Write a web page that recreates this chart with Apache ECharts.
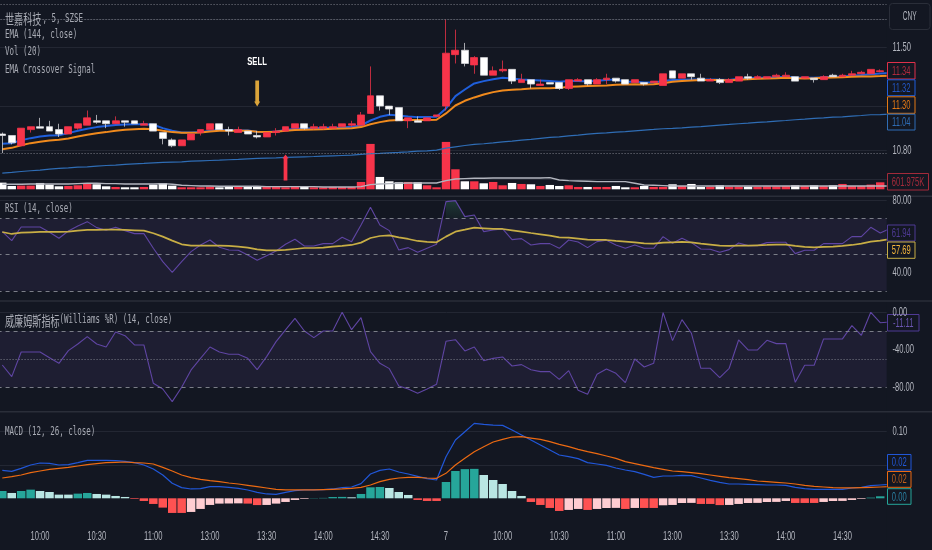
<!DOCTYPE html>
<html>
<head>
<meta charset="utf-8">
<style>html,body{margin:0;padding:0;background:#131722}#main{width:932px;height:550px}</style>
<script src="https://cdn.jsdelivr.net/npm/echarts@6/dist/echarts.min.js"></script>
</head>
<body>
<div id="main"></div>
<script>
// the last category is the bar that is cut off by the right edge of the plot, only the lines reach it
var categories = [
  '09:40','09:45','09:50','09:55','10:00','10:05','10:10','10:15','10:20','10:25','10:30','10:35','10:40','10:45','10:50','10:55','11:00','11:05','11:10','11:15','11:20','11:25',
  '13:00','13:05','13:10','13:15','13:20','13:25','13:30','13:35','13:40','13:45','13:50','13:55','14:00','14:05','14:10','14:15','14:20','14:25','14:30','14:35','14:40','14:45','14:50','14:55','15:00',
  '7','09:35','09:40','09:45','09:50','09:55','10:00','10:05','10:10','10:15','10:20','10:25','10:30','10:35','10:40','10:45','10:50','10:55','11:00','11:05','11:10','11:15','11:20','11:25',
  '13:00','13:05','13:10','13:15','13:20','13:25','13:30','13:35','13:40','13:45','13:50','13:55','14:00','14:05','14:10','14:15','14:20','14:25','14:30','14:35','14:40','14:45','14:50','14:55'
];
var timeTicks = ['10:00','10:30','11:00','13:00','13:30','14:00','14:30','7'];
var priceTicks = [10.8, 11.5];
var rsiTicks = [40, 80];
var williamsTicks = [0, -40, -80];
var macdTicks = [0.1];

// open, close, low, high
var candles = [
  [10.91,10.90,10.78,10.92],[10.90,10.85,10.84,10.90],[10.83,10.95,10.83,10.95],[10.94,10.96,10.92,10.96],[10.96,10.95,10.95,11.02],
  [10.96,10.93,10.93,11.00],[10.94,10.91,10.89,10.98],[10.91,10.96,10.91,10.96],[10.95,10.98,10.94,10.98],[10.97,11.02,10.97,11.07],
  [11.00,10.99,10.98,11.04],[11.00,10.98,10.95,11.00],[10.98,11.00,10.98,11.03],[11.00,10.99,10.96,11.00],[11.00,10.98,10.98,11.00],
  [10.97,10.98,10.97,11.00],[10.98,10.93,10.93,10.98],[10.92,10.88,10.84,10.92],[10.87,10.83,10.82,10.88],[10.83,10.87,10.83,10.87],
  [10.87,10.91,10.87,10.91],[10.92,10.94,10.90,10.94],[10.94,10.98,10.94,10.98],[10.98,10.94,10.94,10.98],[10.94,10.93,10.90,10.96],
  [10.92,10.94,10.92,10.96],[10.93,10.91,10.91,10.93],[10.90,10.89,10.88,10.93],[10.89,10.92,10.89,10.92],[10.92,10.93,10.90,10.95],
  [10.93,10.96,10.93,10.96],[10.95,10.98,10.95,10.98],[10.98,10.95,10.94,10.98],[10.95,10.96,10.94,10.98],[10.95,10.96,10.94,10.98],
  [10.95,10.96,10.95,10.98],[10.96,10.98,10.96,10.98],[10.97,10.98,10.96,11.00],[10.97,11.04,10.97,11.06],[11.05,11.17,11.05,11.37],
  [11.17,11.10,11.07,11.17],[11.10,11.08,11.04,11.10],[11.09,11.00,11.00,11.09],[11.00,11.02,10.95,11.02],[11.00,10.99,10.99,11.03],
  [11.00,11.02,11.00,11.02],[11.03,11.04,11.03,11.04],[11.10,11.46,11.07,11.69],[11.45,11.48,11.39,11.62],[11.48,11.39,11.37,11.53],
  [11.38,11.43,11.32,11.44],[11.43,11.31,11.31,11.43],[11.31,11.34,11.31,11.37],[11.34,11.35,11.33,11.41],[11.35,11.27,11.25,11.35],
  [11.26,11.28,11.26,11.32],[11.28,11.25,11.22,11.28],[11.24,11.25,11.24,11.28],[11.26,11.25,11.25,11.26],[11.26,11.22,11.21,11.26],
  [11.22,11.28,11.21,11.28],[11.27,11.28,11.27,11.29],[11.28,11.25,11.24,11.28],[11.25,11.28,11.25,11.29],[11.28,11.29,11.25,11.32],
  [11.29,11.27,11.26,11.29],[11.28,11.25,11.25,11.28],[11.26,11.28,11.26,11.28],[11.26,11.25,11.24,11.26],[11.26,11.27,11.26,11.27],
  [11.24,11.32,11.24,11.32],[11.34,11.29,11.29,11.34],[11.29,11.32,11.29,11.32],[11.32,11.30,11.28,11.32],[11.29,11.27,11.27,11.32],
  [11.27,11.28,11.27,11.29],[11.28,11.26,11.25,11.29],[11.26,11.28,11.26,11.29],[11.27,11.30,11.27,11.30],[11.30,11.29,11.28,11.32],
  [11.29,11.30,11.29,11.31],[11.29,11.30,11.29,11.30],[11.30,11.31,11.30,11.32],[11.30,11.31,11.30,11.33],[11.30,11.27,11.27,11.30],
  [11.29,11.30,11.29,11.30],[11.29,11.28,11.26,11.29],[11.28,11.30,11.28,11.31],[11.31,11.30,11.30,11.32],[11.30,11.31,11.30,11.32],
  [11.31,11.32,11.31,11.34],[11.32,11.33,11.32,11.34],[11.32,11.35,11.32,11.35],[11.335,11.34,11.33,11.35]
];

var emaFast = [
  10.844,10.848,10.868,10.882,10.893,10.900,10.902,10.916,10.932,10.946,10.957,10.964,10.971,10.975,10.977,10.977,10.973,10.950,10.932,10.921,10.921,10.923,10.932,10.937,10.937,10.934,10.934,10.925,10.923,10.927,10.937,10.946,10.948,
  10.950,10.952,10.952,10.955,10.959,10.968,11.002,11.027,11.041,11.036,11.029,11.025,11.025,11.027,11.084,11.168,11.213,11.254,11.270,11.283,11.293,11.288,11.281,11.277,11.274,11.270,11.265,11.270,11.270,11.268,11.272,11.277,11.281,
  11.265,11.265,11.261,11.261,11.270,11.277,11.279,11.281,11.281,11.281,11.279,11.277,11.286,11.290,11.293,11.293,11.297,11.299,11.295,11.293,11.293,11.297,11.299,11.302,11.306,11.311,11.317,11.322,11.326
];
var emaSlow = [
  10.807,10.816,10.834,10.848,10.857,10.866,10.871,10.880,10.893,10.905,10.916,10.923,10.932,10.939,10.943,10.946,10.943,10.932,10.923,10.918,10.918,10.921,10.927,10.932,10.932,10.932,10.932,10.925,10.923,10.925,10.932,10.937,10.939,
  10.941,10.943,10.946,10.948,10.950,10.957,10.977,10.991,11.002,11.005,11.005,11.005,11.005,11.007,11.050,11.104,11.136,11.159,11.179,11.195,11.206,11.211,11.215,11.220,11.222,11.222,11.224,11.231,11.234,11.236,11.238,11.240,11.245,
  11.247,11.249,11.247,11.249,11.256,11.265,11.270,11.274,11.277,11.277,11.277,11.274,11.279,11.283,11.286,11.288,11.290,11.293,11.290,11.288,11.290,11.293,11.295,11.297,11.299,11.301,11.302,11.304,11.307
];
var ema144 = [
  10.644,10.649,10.655,10.660,10.664,10.671,10.676,10.680,10.685,10.687,10.692,10.696,10.698,10.703,10.707,10.710,10.714,10.717,10.719,10.721,10.726,10.728,10.730,10.732,10.735,10.737,10.741,10.744,10.746,10.748,10.751,10.753,10.755,
  10.757,10.760,10.762,10.764,10.766,10.771,10.776,10.778,10.782,10.785,10.789,10.794,10.796,10.800,10.814,10.823,10.832,10.839,10.844,10.850,10.857,10.862,10.868,10.873,10.880,10.887,10.891,10.898,10.902,10.909,10.914,10.918,10.923,
  10.927,10.932,10.937,10.941,10.946,10.948,10.952,10.957,10.961,10.966,10.971,10.975,10.980,10.984,10.989,10.993,10.998,11.002,11.007,11.011,11.016,11.020,11.025,11.027,11.032,11.036,11.041,11.042,11.046
];
// volume in thousands
var volume = [
  574,287,316,316,545,402,258,287,344,517,431,258,201,172,172,201,402,517,316,172,172,172,230,172,287,201,201,287,201,201,172,201,230,
  172,172,201,201,201,631,3903,1062,689,603,631,603,344,172,4075,1722,689,689,517,631,344,545,459,431,287,373,287,344,201,201,201,201,287,
  172,172,287,201,201,431,287,459,201,230,344,230,230,230,230,258,258,287,344,287,344,287,344,459,287,287,402,601.975
];
var volumeMa = [
  430,430,430,459,459,459,459,459,488,517,517,488,488,459,459,459,459,488,430,344,316,287,287,258,258,258,258,258,230,230,230,230,230,
  230,201,201,201,201,230,402,459,488,517,545,545,545,545,746,890,918,947,947,976,976,976,976,976,976,1005,804,746,718,689,660,660,660,
  660,517,373,344,316,287,287,287,287,287,287,287,287,287,287,287,287,287,287,287,287,287,287,287,287,287,287,287,287
];
var rsi = [
  62.69,57.72,65.27,65.27,65.27,62.32,59.0,63.06,65.82,68.21,64.9,63.43,65.08,63.24,61.58,61.58,53.48,46.11,40.22,46.11,51.64,55.32,58.08,54.03,52.56,52.38,49.8,46.85,49.43,52.0,55.69,58.45,54.77,
  54.77,56.06,56.06,59.56,57.16,66.37,76.13,66.37,63.24,52.56,53.85,51.27,53.48,55.69,79.26,79.82,70.98,71.9,62.69,63.61,64.16,58.27,58.82,55.32,56.06,56.06,53.48,58.08,56.98,53.85,57.16,57.9,55.32,
  53.48,55.32,53.48,53.48,59.93,56.24,59.0,56.61,53.11,52.93,51.27,52.74,56.43,54.95,54.95,56.61,56.8,56.8,50.53,52.38,52.38,56.06,56.06,56.06,59.93,59.93,65.08,61.94,64.3
];
var rsiMa = [
  62.5,61.4,62.14,62.32,62.5,62.5,62.5,62.69,63.24,63.61,63.61,63.79,63.79,63.61,63.43,63.24,61.77,59.93,57.72,55.69,54.95,54.95,54.95,54.95,54.77,54.4,53.85,52.93,52.38,52.38,52.56,53.11,53.66,
  53.66,53.85,54.4,54.77,55.32,56.61,59.19,60.29,60.66,59.56,58.64,57.53,56.98,56.8,59.93,62.69,63.79,64.9,64.53,64.16,64.16,63.43,62.69,61.95,61.22,60.48,59.56,59.37,58.82,58.27,58.08,58.08,57.53,
  57.16,56.8,56.24,56.06,56.61,56.8,56.98,56.8,56.06,55.51,54.95,54.77,54.95,54.95,55.14,55.32,55.51,55.51,54.77,54.22,54.03,54.22,54.4,54.77,55.32,56.06,57.16,57.69,58.5
];
var williams = [
  -56.2,-68.6,-42.3,-42.3,-42.3,-48.4,-54.4,-40.9,-33.8,-26.0,-33.8,-37.0,-21.0,-24.9,-34.8,-34.8,-75.7,-81.8,-95.3,-80.0,-61.5,-49.1,-37.0,-42.3,-44.8,-44.8,-49.1,-61.2,-47.3,-31.3,-18.8,-6.4,-19.9,
  -27.0,-19.9,-19.9,0,-18.5,-5.7,-42.0,-54.4,-60.1,-78.6,-81.8,-86.4,-81.8,-76.8,-30.9,-29.2,-41.2,-37.0,-51.6,-49.1,-47.6,-57.3,-55.8,-61.2,-63.3,-63.3,-71.5,-62.2,-83.2,-87.5,-66.1,-60.4,-65.1,
  -75.0,-49.8,-58.3,-54.4,-0.4,-30.2,-7.8,-22.4,-59.7,-59.7,-69.7,-59.7,-29.5,-40.2,-40.2,-29.9,-33.4,-33.4,-74.7,-56.5,-56.5,-28.4,-28.4,-28.4,-14.2,-24.5,0,-11.11,-10.3
];
var macdLine = [
  .042,.0405,.045,.05,.053,.0525,.05,.0505,.0535,.057,.057,.057,.0565,.0555,.0535,.05,.044,.035,.0225,.016,.014,.0145,.0175,.0175,.0165,.015,.0125,.009,.0065,.006,.009,.0115,.0125,
  .0125,.013,.014,.016,.017,.022,.0365,.042,.044,.0395,.0365,.033,.0295,.0275,.0625,.0875,.1,.1125,.111,.11,.1095,.1025,.095,.0875,.08,.0725,.065,.0625,.0595,.0535,.0515,.0495,.0455,
  .0425,.04,.036,.0315,.0335,.0335,.0345,.034,.0305,.027,.024,.0215,.0215,.021,.0205,.02,.02,.0195,.0165,.0145,.0135,.0135,.0135,.0135,.0155,.0165,.019,.02,.021
];
var macdSignal = [
  .0305,.0325,.035,.0385,.041,.0435,.045,.0465,.0485,.0505,.052,.0535,.054,.0545,.0535,.053,.0515,.0465,.041,.035,.031,.0285,.0265,.025,.023,.0215,.0195,.0175,.0155,.0135,.0125,.0125,.0125,
  .0125,.013,.0135,.014,.015,.0165,.02,.025,.0285,.0305,.0315,.0315,.0305,.03,.0375,.05,.06,.07,.0775,.0845,.0885,.092,.0925,.0905,.0885,.085,.081,.0775,.0735,.07,.067,.0635,.06,
  .055,.052,.049,.046,.0435,.041,.04,.0385,.037,.035,.033,.031,.0295,.028,.026,.025,.024,.023,.0215,.0195,.018,.017,.016,.0155,.0155,.016,.0165,.017,.0175
];
var macdHist = [
  .011,.008,.011,.013,.011,.0095,.0055,.0055,.007,.008,.0065,.0055,.0035,.002,-.001,-.004,-.0085,-.014,-.022,-.022,-.0205,-.016,-.01,-.008,-.0078,-.0076,-.008,-.0102,-.01,-.008,-.0055,-.0025,-.001,
  .0004,.0006,.0019,.0021,.0015,.0065,.0165,.017,.0155,.0095,.005,-.0025,-.004,-.004,.0245,.041,.0438,.0442,.035,.0275,.0215,.011,.0035,-.0055,-.01,-.0145,-.019,-.0175,-.016,-.0175,-.016,-.0146,-.0144,
  -.016,-.0145,-.0145,-.0145,-.0105,-.01,-.0071,-.0069,-.0085,-.0085,-.0102,-.01,-.0085,-.0071,-.0069,-.0056,-.0054,-.004,-.007,-.007,-.007,-.0055,-.0041,-.0039,-.0025,-.001,.001,.003
];
var volumeTag = '601.975K';
var sellIndex = 27, sellPrice = 11.186;
var buyIndex = 30, buyPrice = 10.682;

var bg = '#131722', gridCol = '#232733', red = '#f7344a', white = '#ffffff', textCol = '#a8abb4', tickCol = '#b2b5be';
var fastCol = '#1f5fdc', slowCol = '#f08a1d', longCol = '#2f6db5', purple = '#5f45a3', yellow = '#c8ae45';

// index of the bar the value tags read from
var last = candles.length - 1;
var myChart = echarts.init(document.getElementById('main'));

function gridAt(top, height) {
  return {left: -2.42, width: 896.8, top: top, height: height, outerBoundsMode: 'none'};
}
var grids = [gridAt(0, 194), gridAt(0, 189.3), gridAt(197, 103), gridAt(302, 109), gridAt(412, 110)];

function xAxisFor(i) {
  return {
    type: 'category', gridIndex: i, data: categories, boundaryGap: true,
    axisLine: {show: false}, axisTick: {show: false}, splitLine: {show: false}, axisLabel: {show: false}
  };
}

function yAxisFor(i, min, max, grid) {
  return {
    type: 'value', gridIndex: i, position: 'right', min: min, max: max, scale: true,
    axisLine: {show: false},
    axisTick: {show: false, customValues: grid},
    splitLine: {show: grid.length > 0, lineStyle: {color: gridCol, width: 1}},
    axisLabel: {show: false}
  };
}

function guides(list) {
  return {
    silent: true, symbol: 'none', animation: false, label: {show: false},
    data: list.map(function (g) {
      return {yAxis: g[0], lineStyle: {type: g[1], color: '#7b7e88', width: 1}};
    })
  };
}

function line(name, x, data, color, width, z) {
  return {
    name: name, type: 'line', xAxisIndex: x, yAxisIndex: x, data: data, symbol: 'none',
    lineStyle: {color: color, width: width}, z: z || 2, animation: false
  };
}

var series = [];

var longLine = line('EMA 144', 0, ema144, longCol, 1.2, 1);
longLine.markLine = guides([[11.786, [1, 2]], [11.69, [1, 2]], [10.78, [1, 2]]]);
series.push(longLine);
series.push(line('EMA fast', 0, emaFast, fastCol, 2, 2));
series.push(line('EMA slow', 0, emaSlow, slowCol, 2, 2));
series.push({
  name: 'Price', type: 'candlestick', xAxisIndex: 0, yAxisIndex: 0, data: candles, barWidth: 7.4, z: 3, animation: false,
  itemStyle: {color: red, color0: white, borderColor: red, borderColor0: '#d8d8dc', borderWidth: 0.75},
  markPoint: {
    silent: true, animation: false, label: {show: false},
    data: [
      {coord: [sellIndex, sellPrice], symbol: 'path://M1.5 0 L6.5 0 L6.5 21 L8 21 L4 26 L0 21 L1.5 21 Z', symbolSize: [6, 26], itemStyle: {color: '#dba43a'}},
      {coord: [buyIndex, buyPrice], symbol: 'path://M4 0 L8 4 L6.5 4 L6.5 26 L1.5 26 L1.5 4 L0 4 Z', symbolSize: [6, 26], itemStyle: {color: red}}
    ]
  }
});

series.push({
  name: 'Vol', type: 'bar', xAxisIndex: 1, yAxisIndex: 1, data: volume, barWidth: 8.4, z: 1, animation: false,
  itemStyle: {
    color: function (p) {
      var c = candles[p.dataIndex];
      return c[1] >= c[0] ? red : white;
    }
  }
});
series.push(line('Vol MA', 1, volumeMa, '#b2b5be', 1.4, 2));

var rsiLine = line('RSI', 2, rsi, purple, 1.1, 3);
rsiLine.markLine = guides([[70, [4, 4]], [50, [4, 4]], [30, [4, 4]]]);
rsiLine.markArea = {silent: true, animation: false, itemStyle: {color: '#1e1e32'}, data: [[{yAxis: 70}, {yAxis: 30}]]};
series.push(rsiLine);
series.push(line('RSI MA', 2, rsiMa, yellow, 1.7, 4));
series.push({
  name: 'RSI fill', type: 'line', xAxisIndex: 2, yAxisIndex: 2, symbol: 'none', animation: false, z: 2,
  data: rsi.map(function (v) { return v > 70 ? v : null; }),
  lineStyle: {width: 0},
  areaStyle: {
    origin: 70,
    color: new echarts.graphic.LinearGradient(0, 0, 0, 1, [
      {offset: 0, color: 'rgba(52,120,90,0.5)'}, {offset: 1, color: 'rgba(52,120,90,0.12)'}
    ])
  }
});

var wrLine = line('Williams', 3, williams, purple, 1.1, 3);
wrLine.markLine = guides([[-20, [4, 4]], [-50, [1, 2]], [-80, [4, 4]]]);
wrLine.markArea = {silent: true, animation: false, itemStyle: {color: '#1e1e32'}, data: [[{yAxis: -20}, {yAxis: -80}]]};
series.push(wrLine);

series.push({
  name: 'Histogram', type: 'bar', xAxisIndex: 4, yAxisIndex: 4, data: macdHist, barWidth: 8.5, z: 1, animation: false,
  itemStyle: {
    color: function (p) {
      var v = p.value, prev = p.dataIndex > 0 ? macdHist[p.dataIndex - 1] : 0;
      if (v >= 0) return v > prev ? '#26a69a' : '#b9e6e3';
      return v <= prev ? '#ff5252' : '#ffcdd2';
    }
  }
});
series.push(line('MACD', 4, macdLine, '#2157d8', 1.2, 2));
series.push(line('Signal', 4, macdSignal, '#ec6a12', 1.2, 3));

var option = {
  animation: false,
  backgroundColor: bg,
  grid: grids,
  xAxis: [xAxisFor(0), xAxisFor(1), xAxisFor(2), xAxisFor(3), xAxisFor(4)],
  yAxis: [
    yAxisFor(0, 10.502, 11.8218, [10.6, 10.8, 11.1, 11.5, 11.69]),
    yAxisFor(1, 0, 16280, []),
    yAxisFor(2, 24.92, 81.82, [40, 60, 80]),
    yAxisFor(3, -105.28, 10.99, [0, -40]),
    yAxisFor(4, -0.0356, 0.1296, [0.05, 0.1])
  ],
  series: series
};
myChart.setOption(option);

// text is squeezed sideways in the reference, axis labels can't do that so they go in as graphics at scale positions
function label(text, x, y, size, color, opts) {
  opts = opts || {};
  return {
    type: 'text', x: x, y: y, scaleX: opts.scale || 0.625, z: 100, silent: true,
    style: {
      text: text, fill: color, fontSize: size, fontWeight: opts.weight || 'normal',
      fontFamily: opts.family || '"DejaVu Sans Mono"',
      align: opts.align || 'left', verticalAlign: 'middle'
    }
  };
}
var plainFont = '"Liberation Sans"';

function tag(text, x1, y1, x2, y2, border, color) {
  return [
    {
      type: 'rect', z: 98, silent: true, shape: {x: x1, y: y1, width: x2 - x1, height: y2 - y1},
      style: {fill: bg, stroke: border, lineWidth: 1}
    },
    label(text, (x1 + x2) / 2, (y1 + y2) / 2 + 0.5, 13, color, {family: plainFont, align: 'center', scale: 0.585})
  ];
}

function separator(y) {
  return {type: 'rect', z: 97, silent: true, shape: {x: 0, y: y, width: 932, height: 1.5}, style: {fill: '#2a2e39'}};
}

function valueLabels(axisIndex, ticks) {
  return ticks.map(function (v) {
    var y = myChart.convertToPixel({yAxisIndex: axisIndex}, v);
    return label(v.toFixed(2), 892.5, y, 13, tickCol, {family: plainFont, scale: 0.585});
  });
}

var cjk = '"Noto Sans CJK SC"';
var graphic = [
  // price scale strip, hides the part of the plot past its right edge
  {type: 'rect', z: 90, silent: true, shape: {x: 886.7, y: 0, width: 46, height: 550}, style: {fill: bg}},
  separator(195.5), separator(300.3), separator(411),
  label('世嘉科技', 5, 18.5, 14, textCol, {family: cjk, scale: 0.65}),
  label(', 5, SZSE', 42.5, 18.5, 12, textCol),
  label('EMA (144, close)', 5, 35, 12, textCol),
  label('Vol (20)', 5, 52.3, 12, textCol),
  label('EMA Crossover Signal', 5, 70, 12, textCol),
  label('RSI (14, close)', 5, 209.3, 12, textCol),
  label('威廉姆斯指标', 5, 320.3, 14, textCol, {family: cjk, scale: 0.65}),
  label('(Williams %R) (14, close)', 59.5, 320.3, 12, textCol),
  label('MACD (12, 26, close)', 5, 431.7, 12, textCol),
  label('SELL', 257, 61.7, 11, '#ffffff', {family: plainFont, weight: 'bold', align: 'center', scale: 0.7}),
  {
    type: 'rect', z: 98, silent: true, shape: {x: 889.5, y: 3.5, width: 40.5, height: 26, r: 3},
    style: {fill: bg, stroke: '#2a2e39', lineWidth: 1}
  },
  label('CNY', 909.7, 17, 12, '#b2b5be', {family: plainFont, align: 'center', scale: 0.55})
];
categories.forEach(function (name, idx) {
  if (timeTicks.indexOf(name) >= 0) {
    var x = myChart.convertToPixel({xAxisIndex: 4}, idx);
    graphic.push(label(name, x, 536, 13, tickCol, {family: plainFont, align: 'center', scale: 0.585}));
  }
});
graphic = graphic
  .concat(valueLabels(0, priceTicks))
  .concat(valueLabels(2, rsiTicks))
  .concat(valueLabels(3, williamsTicks))
  .concat(valueLabels(4, macdTicks))
  .concat(tag(candles[last][1].toFixed(2), 887.5, 62.5, 915, 79, '#e0304a', '#b02a3c'))
  .concat(tag(emaFast[last].toFixed(2), 887.5, 79.8, 915, 95.7, fastCol, '#2257c8'))
  .concat(tag(emaSlow[last].toFixed(2), 887.5, 96.8, 915, 113.3, '#e57a14', '#e57a14'))
  .concat(tag(ema144[last].toFixed(2), 887.5, 114.2, 915, 130, longCol, '#2f6db5'))
  .concat(tag(volumeTag, 887.5, 173.5, 928.5, 190, '#a32a3a', '#a32a3a'))
  .concat(tag(rsi[last].toFixed(2), 887.5, 225, 915, 241, '#4f3a94', '#4f3a94'))
  .concat(tag(rsiMa[last].toFixed(2), 887.5, 242, 915, 258.3, yellow, '#f5b63c'))
  .concat(tag(williams[last].toFixed(2), 887.5, 314.5, 919, 331, '#4f3a94', '#6a55b0'))
  .concat(tag(macdLine[last].toFixed(2), 887.5, 454.5, 911, 470, '#2157d8', '#2157d8'))
  .concat(tag(macdSignal[last].toFixed(2), 887.5, 471.5, 911, 487.3, '#ec6a12', '#c2601a'))
  .concat(tag(Math.abs(macdHist[last]).toFixed(2), 887.5, 488.7, 911, 504.3, '#26a69a', '#2a7fa0'));

myChart.setOption({graphic: graphic});
</script>
</body>
</html>
